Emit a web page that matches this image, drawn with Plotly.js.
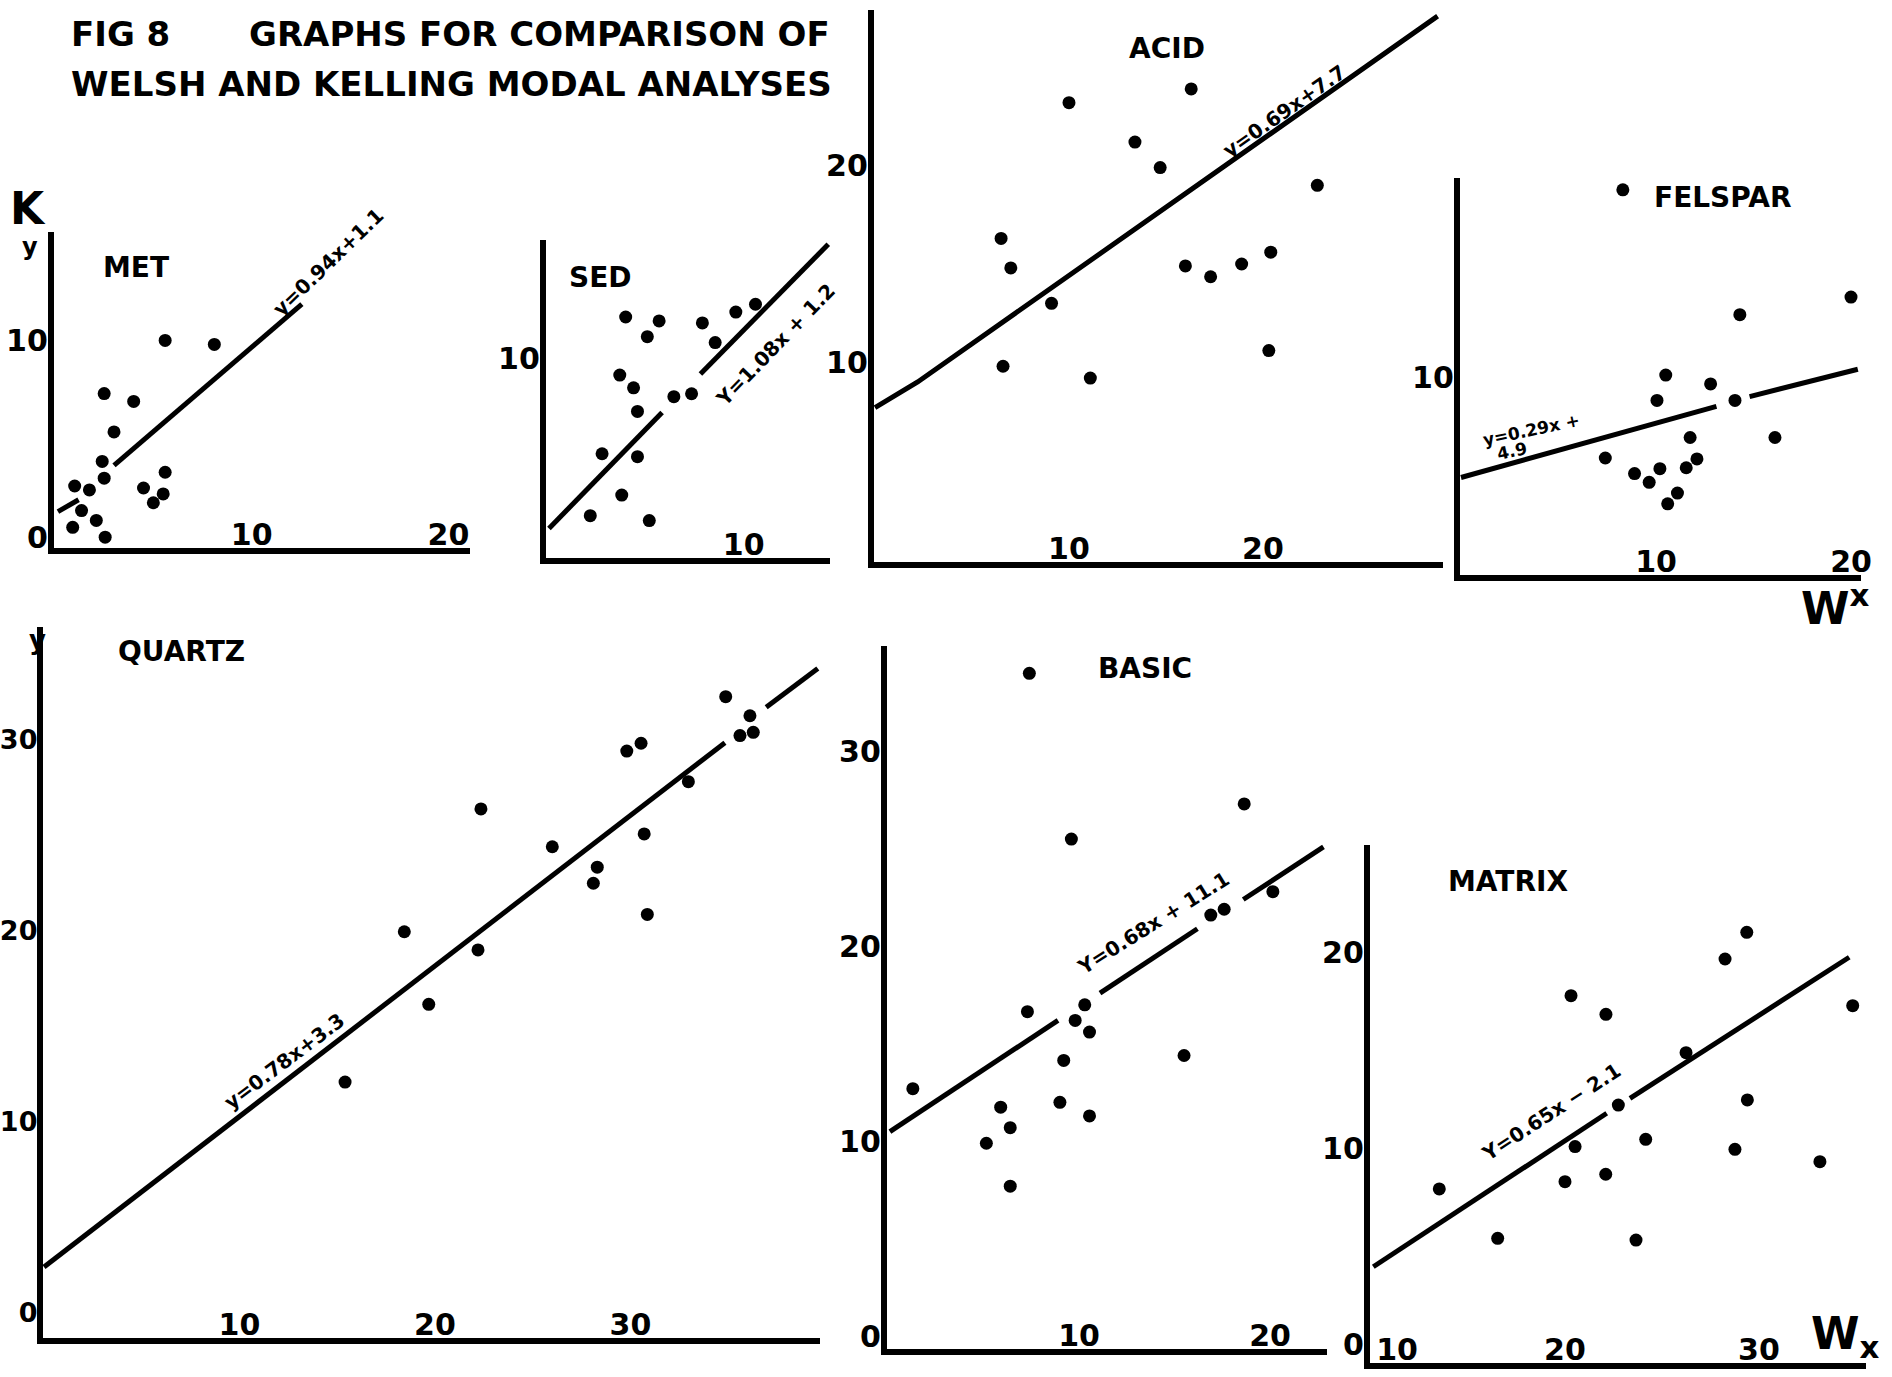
<!DOCTYPE html>
<html><head><meta charset="utf-8">
<script src="https://cdn.plot.ly/plotly-3.0.1.min.js"></script>
<style>html,body{margin:0;padding:0;background:#fff}</style>
</head><body>
<div id="chart" style="width:1892px;height:1377px"></div>
<script>
// ---------- DATA ----------
// MET
const metX = [5.6, 8.1, 2.5, 4.0, 3.0, 2.4, 2.5, 5.6, 4.5, 5.5, 5.0, 1.0, 1.75, 1.35, 2.1, 0.9, 2.55];
const metY = [10.5, 10.3, 7.8, 7.4, 5.85, 4.35, 3.5, 3.8, 3.0, 2.7, 2.25, 3.1, 2.9, 1.85, 1.35, 1.0, 0.5];
const metLineX = [0.15, 1.2, null, 3.0, 12.55];
const metLineY = [1.8, 2.4, null, 4.15, 12.35];
// SED
const sedX = [4.0, 5.7, 5.1, 7.9, 8.55, 9.6, 10.6, 3.7, 4.4, 4.6, 6.45, 7.35, 2.8, 4.6, 3.8, 2.2, 5.2];
const sedY = [12.2, 12.0, 11.2, 11.9, 10.9, 12.45, 12.85, 9.25, 8.6, 7.4, 8.15, 8.3, 5.25, 5.1, 3.15, 2.1, 1.85];
const sedLineX = [0.1, 5.85, null, 7.8, 14.3];
const sedLineY = [1.45, 7.35, null, 9.3, 15.9];
// ACID
const acidX = [10.0, 16.3, 29.4, 13.4, 14.7, 22.8, 6.5, 7.0, 9.1, 16.0, 17.3, 18.9, 20.4, 20.3, 6.6, 11.1];
const acidY = [23.3, 24.0, 26.5, 21.3, 20.0, 19.1, 16.4, 14.9, 13.1, 15.0, 14.45, 15.1, 15.7, 10.7, 9.9, 9.3];
const acidLineX = [0, 2.2, 29.0];
const acidLineY = [7.8, 9.1, 27.7];
// FELSPAR
const felsX = [8.3, 20.0, 14.3, 10.5, 12.8, 10.05, 14.05, 11.75, 16.1, 7.4, 8.9, 10.2, 9.65, 12.1, 11.55, 11.1, 10.6];
const felsY = [19.7, 14.2, 13.3, 10.2, 9.75, 8.9, 8.9, 7.0, 7.0, 5.95, 5.15, 5.4, 4.7, 5.9, 5.45, 4.15, 3.6];
const felsLineX = [0, 13.1, null, 14.8, 20.35];
const felsLineY = [4.95, 8.6, null, 9.1, 10.5];
// QUARTZ
const qX = [34.87, 36.11, 35.6, 36.28, 29.81, 30.54, 32.96, 22.35, 26.0, 30.7, 28.3, 28.1, 30.86, 18.43, 22.2, 19.68, 15.4];
const qY = [33.16, 32.16, 31.12, 31.29, 30.31, 30.72, 28.71, 27.28, 25.3, 25.97, 24.23, 23.39, 21.76, 20.85, 19.9, 17.05, 12.98];
const qLineX = [0, 34.83, null, 36.94, 39.58];
const qLineY = [3.3, 30.75, null, 32.6, 34.64];
// BASIC
const bX = [7.4, 9.6, 18.65, 20.15, 16.9, 17.6, 10.3, 9.8, 10.55, 7.3, 15.5, 9.2, 1.3, 5.9, 6.4, 5.15, 9.0, 10.55, 6.4];
const bY = [34.6, 26.1, 27.9, 23.4, 22.2, 22.5, 17.6, 16.8, 16.2, 17.25, 15.0, 14.75, 13.3, 12.35, 11.3, 10.5, 12.6, 11.9, 8.3];
const bLineX = [0.1, 8.9, null, 11.1, 16.2, null, 18.6, 22.8];
const bLineY = [11.1, 16.8, null, 18.2, 21.5, null, 23.0, 25.7];
// MATRIX
const mX = [29.37, 28.25, 34.83, 20.31, 22.11, 26.24, 22.75, 29.4, 24.16, 20.52, 28.76, 33.14, 22.1, 20.0, 13.52, 16.53, 23.66];
const mY = [21.92, 20.56, 18.18, 18.69, 17.74, 15.78, 13.11, 13.37, 11.36, 10.99, 10.85, 10.22, 9.58, 9.2, 8.83, 6.31, 6.22];
const mLineX = [10.12, 22.15, null, 23.35, 34.65];
const mLineY = [4.86, 12.69, null, 13.45, 20.65];

// tick values and labels
const metXT = [10, 20], metYT = [0, 10];
const sedXT = [10], sedYT = [10];
const acidXT = [10, 20], acidYT = [10, 20];
const felsXT = [10, 20], felsYT = [10];
const qXT = [10, 20, 30], qYT = [0, 10, 20, 30];
const bXT = [10, 20], bYT = [0, 10, 20, 30];
const mXT = [10, 20, 30], mYT = [0, 10, 20];
const mXLabels = ['\u00a0\u00a0\u00a0\u00a0\u00a010', '20', '30'];

// ---------- LAYOUT ----------
const W = 1892, H = 1377;
const FONT = 'DejaVu Sans';
// ox/oy: pixel of the reference value (xv/0); sx/sy: pixels per unit
const panels = [
  {ox:55,  oy:547,  xv:0,  sx:19.67, sy:19.67, xr:[-0.06,21.1], yr:[-0.06,16],   px:metX, py:metY, lx:metLineX, ly:metLineY, xt:metXT, yt:metYT, shift:-10},
  {ox:547, oy:557,  xv:0,  sx:19.67, sy:19.67, xr:[-0.06,14.4], yr:[-0.06,16.1], px:sedX, py:sedY, lx:sedLineX, ly:sedLineY, xt:sedXT, yt:sedYT, shift:-2},
  {ox:875, oy:561,  xv:0,  sx:19.4,  sy:19.67, xr:[-0.06,29.3], yr:[-0.06,28],   px:acidX, py:acidY, lx:acidLineX, ly:acidLineY, xt:acidXT, yt:acidYT, shift:-2},
  {ox:1461,oy:574,  xv:0,  sx:19.5,  sy:19.5,  xr:[-0.06,20.5], yr:[-0.06,20.3], px:felsX, py:felsY, lx:felsLineX, ly:felsLineY, xt:felsXT, yt:felsYT, shift:-2},
  {ox:44,  oy:1330, xv:0,  sx:19.55, sy:19.1,  xr:[-0.06,39.7], yr:[-0.42,36.8], px:qX, py:qY, lx:qLineX, ly:qLineY, xt:qXT, yt:qYT, yfs:27, shift:-17},
  {ox:888, oy:1348, xv:0,  sx:19.1,  sy:19.5,  xr:[-0.06,23],   yr:[-0.06,36],   px:bX, py:bY, lx:bLineX, ly:bLineY, xt:bXT, yt:bYT, shift:-12},
  {ox:1371,oy:1362, xv:10, sx:19.4,  sy:19.6,  xr:[9.94,35.5],  yr:[-0.06,26.4], px:mX, py:mY, lx:mLineX, ly:mLineY, xt:mXT, yt:mYT, xl:mXLabels, shift:-18}
];

const traces = [];
const layout = {
  width: W, height: H, margin:{l:0,r:0,t:0,b:0},
  paper_bgcolor:'#fff', plot_bgcolor:'rgba(0,0,0,0)', showlegend:false,
  font:{family:FONT, color:'#000'},
  annotations: []
};

panels.forEach((p, i) => {
  const n = i === 0 ? '' : String(i + 1);
  const xa = 'x' + n, ya = 'y' + n;
  const xpix = v => p.ox + (v - p.xv) * p.sx;
  const ypix = v => p.oy - v * p.sy;
  const x0 = xpix(p.xr[0]), x1 = xpix(p.xr[1]);
  const yb = ypix(p.yr[0]), yt = ypix(p.yr[1]);
  layout['xaxis' + n] = {
    domain:[x0 / W, x1 / W], range:p.xr, anchor:ya,
    showline:true, linecolor:'#000', linewidth:6, showgrid:false, zeroline:false,
    ticks:'', tickvals:p.xt, ticktext:p.xl || p.xt.map(String),
    tickfont:{family:FONT, size:30, color:'#000', weight:'bold'},
    ticklabelposition:'inside', ticklabeloverflow:'allow', fixedrange:true
  };
  layout['yaxis' + n] = {
    domain:[1 - yb / H, 1 - yt / H], range:p.yr, anchor:xa,
    showline:true, linecolor:'#000', linewidth:6, showgrid:false, zeroline:false,
    ticks:'', tickvals:p.yt, ticktext:p.yt.map(String),
    tickfont:{family:FONT, size:p.yfs || 30, color:'#000', weight:'bold'},
    ticklabelstandoff:-6, ticklabelshift:p.shift || 0,
    ticklabeloverflow:'allow', fixedrange:true
  };
  traces.push({type:'scatter', mode:'lines', x:p.lx, y:p.ly, xaxis:xa, yaxis:ya,
    line:{color:'#000', width:5}, connectgaps:false, hoverinfo:'skip'});
  traces.push({type:'scatter', mode:'markers', x:p.px, y:p.py, xaxis:xa, yaxis:ya,
    marker:{color:'#000', size:13}, cliponaxis:false, hoverinfo:'skip'});
});

function paperText(text, px, py, size, anchor) {
  layout.annotations.push({
    text:text, xref:'paper', yref:'paper', x:px / W, y:1 - py / H,
    xanchor:anchor || 'center', yanchor:'middle', showarrow:false,
    font:{family:FONT, size:size, color:'#000', weight:'bold'}
  });
}
function dataText(text, n, x, y, size, angle) {
  layout.annotations.push({
    text:text, xref:'x' + n, yref:'y' + n, x:x, y:y, textangle:angle,
    xanchor:'center', yanchor:'middle', showarrow:false,
    font:{family:FONT, size:size, color:'#000', weight:'bold'}
  });
}

// Title
paperText('FIG 8', 69, 34, 34, 'left');
paperText('GRAPHS FOR COMPARISON OF', 247, 34, 34, 'left');
paperText('WELSH AND KELLING MODAL ANALYSES', 69, 84, 34, 'left');
// Axis letters
paperText('K', 28, 208, 44);
paperText('y', 30, 247, 24);
paperText('y', 37, 640, 26);
paperText('W<sup>x</sup>', 1835, 606, 44);
paperText('W<sub>x</sub>', 1845, 1336, 44);
// Panel names
paperText('MET', 136, 267, 28);
paperText('SED', 600, 277, 28);
paperText('ACID', 1167, 48, 28);
paperText('FELSPAR', 1722, 197, 28);
paperText('QUARTZ', 181, 651, 28);
paperText('BASIC', 1145, 668, 28);
paperText('MATRIX', 1508, 881, 28);
// Regression equations
dataText('y=0.94x+1.1', '', 13.9, 14.5, 20, -44);
dataText('Y=1.08x + 1.2', '2', 11.6, 10.8, 20, -46);
dataText('y=0.69x+7.7', '3', 21.1, 22.9, 20, -35);
dataText('y=0.29x +', '4', 3.6, 7.4, 17, -12);
dataText('4.9', '4', 2.6, 6.3, 17, -12);
dataText('y=0.78x+3.3', '5', 12.3, 14.1, 20, -37);
dataText('Y=0.68x + 11.1', '6', 13.9, 21.8, 20, -32);
dataText('Y=0.65x − 2.1', '7', 19.3, 12.75, 20, -33);

Plotly.newPlot('chart', traces, layout, {staticPlot:true, displayModeBar:false});
</script>
</body></html>
